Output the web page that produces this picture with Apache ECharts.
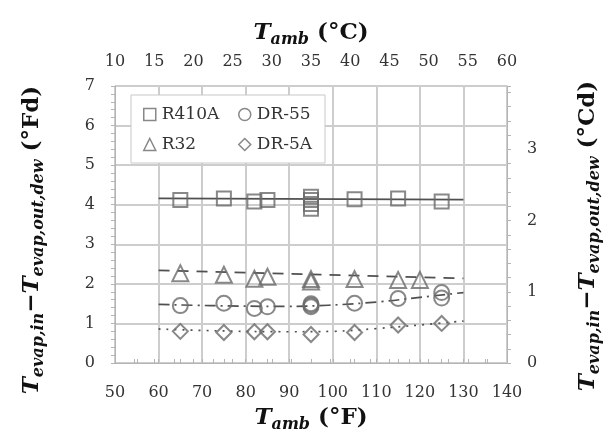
<!DOCTYPE html>
<html>
<head>
<meta charset="utf-8">
<script src="https://cdn.jsdelivr.net/npm/echarts@6/dist/echarts.min.js"></script>
<style>
  html, body { margin: 0; padding: 0; background: #fff; }
  #chart { width: 611px; height: 439px; }
</style>
</head>
<body>
<div id="chart"></div>
<script>
// Axis ranges and tick steps
const ticksF = [50, 140, 10];        // ambient temperature, °F  (min, max, step)
const ticksC = [10, 60, 5];          // ambient temperature, °C  (min, max, step)
const ticksFd = [0, 7, 1];           // temperature glide, °F difference
const cdMax = 7 / 1.8;               // same span expressed in °C difference

// Measured glide per refrigerant
const r410aTemp = [65, 75, 82, 85, 95, 95, 95, 95, 105, 115, 125];
const r410aGlide = [4.12, 4.16, 4.08, 4.12, 4.2, 4.12, 4.02, 3.9, 4.14, 4.16, 4.08];

const r32Temp = [65, 75, 82, 85, 95, 95, 105, 115, 120];
const r32Glide = [2.27, 2.23, 2.13, 2.18, 2.12, 2.06, 2.12, 2.1, 2.1];

const dr55Temp = [65, 75, 82, 85, 95, 95, 95, 105, 115, 125, 125];
const dr55Glide = [1.45, 1.51, 1.38, 1.42, 1.42, 1.46, 1.5, 1.51, 1.63, 1.78, 1.64];

const dr5aTemp = [65, 75, 82, 85, 95, 105, 115, 125];
const dr5aGlide = [0.8, 0.77, 0.79, 0.79, 0.72, 0.77, 0.96, 1.0];

// Trend lines
const r410aFitTemp = [60, 130];
const r410aFit = [4.16, 4.13];
const r32FitTemp = [60, 130];
const r32Fit = [2.34, 2.14];
const dr55FitTemp = [60, 72, 89, 99, 111, 120, 130];
const dr55Fit = [1.48, 1.45, 1.43, 1.46, 1.55, 1.66, 1.78];
const dr5aFitTemp = [60, 75, 90, 100, 110, 120, 130];
const dr5aFit = [0.86, 0.81, 0.79, 0.8, 0.87, 0.96, 1.06];

const FONT = 'DejaVu Serif';
const TXT = '#333333';
const AXIS = '#b4b4b4';
const GRID = '#cdcdcd';
const MARK = '#6a6a6a';
const FIT = '#505050';

const pairs = (xs, ys) => xs.map((x, i) => [x, ys[i]]);

const chart = echarts.init(document.getElementById('chart'), null, { renderer: 'canvas' });

const labelStyle = { color: TXT, fontFamily: FONT, fontSize: 16 };
const titleRich = {
  T: { fontFamily: FONT, fontSize: 23, fontWeight: 'bold', fontStyle: 'italic', lineHeight: 30, verticalAlign: 'middle', color: '#111' },
  s: { fontFamily: FONT, fontSize: 16, fontWeight: 'bold', fontStyle: 'italic', lineHeight: 18, verticalAlign: 'bottom', color: '#111' },
  n: { fontFamily: FONT, fontSize: 23, fontWeight: 'bold', lineHeight: 30, verticalAlign: 'middle', color: '#111' }
};
const zTitleRich = {};
for (const k in titleRich) {
  const o = Object.assign({}, titleRich[k]);
  o.fill = o.color; delete o.color;
  zTitleRich[k] = o;
}

function scatter(name, symbol, size, xs, ys) {
  return {
    name, type: 'scatter', symbol, symbolSize: size,
    data: pairs(xs, ys), z: 3,
    itemStyle: { color: 'rgba(255,255,255,0)', borderColor: MARK, borderWidth: 2 },
    emphasis: { disabled: true }
  };
}
function fit(name, xs, ys, type, smooth) {
  return {
    name, type: 'line', data: pairs(xs, ys), showSymbol: false, smooth: smooth ? 0.4 : false,
    lineStyle: { color: FIT, width: 1.7, type }, z: 2, silent: true
  };
}

const legendCommon = {
  orient: 'vertical', itemWidth: 12, itemHeight: 12, itemGap: 13, z: 6,
  textStyle: { color: TXT, fontFamily: FONT, fontSize: 17, padding: [0, 0, 0, 1] },
  itemStyle: { color: 'rgba(255,255,255,0)', borderColor: MARK, borderWidth: 1.5 },
  selectedMode: false
};

const gridLine = { show: true, lineStyle: { color: GRID, width: 2, type: 'solid', opacity: 1 } };

chart.setOption({
  animation: false,
  grid: { left: 115, right: 104, top: 86, bottom: 76 },
  xAxis: [
    {
      type: 'value', position: 'bottom', min: ticksF[0], max: ticksF[1], interval: ticksF[2],
      axisLine: { show: true, lineStyle: { color: AXIS, width: 1 } },
      axisTick: { show: true, inside: true, length: 4, lineStyle: { color: AXIS } },
      minorTick: { show: true, splitNumber: 2, length: 4, lineStyle: { color: AXIS } },
      splitLine: gridLine,
      axisLabel: Object.assign({ margin: 22 }, labelStyle),
      name: '{T|T}{s|amb}{n| (°F)}', nameLocation: 'middle', nameGap: 40,
      nameTextStyle: { rich: titleRich }
    },
    {
      type: 'value', position: 'top', min: ticksC[0], max: ticksC[1], interval: ticksC[2],
      axisLine: { show: true, lineStyle: { color: AXIS, width: 1 } },
      axisTick: { show: true, inside: false, length: 4, lineStyle: { color: AXIS } },
      minorTick: { show: true, splitNumber: 2, length: 4, lineStyle: { color: AXIS } },
      splitLine: { show: false },
      axisLabel: Object.assign({ margin: 16 }, labelStyle),
      name: '{T|T}{s|amb}{n| (°C)}', nameLocation: 'middle', nameGap: 38,
      nameTextStyle: { rich: titleRich }
    }
  ],
  yAxis: [
    {
      type: 'value', position: 'left', min: ticksFd[0], max: ticksFd[1], interval: ticksFd[2],
      axisLine: { show: true, lineStyle: { color: AXIS, width: 1 } },
      axisTick: { show: true, inside: false, length: 4, lineStyle: { color: AXIS } },
      minorTick: { show: true, splitNumber: 5, length: 4, lineStyle: { color: AXIS } },
      splitLine: gridLine,
      axisLabel: Object.assign({ margin: 20 }, labelStyle)
    },
    {
      type: 'value', position: 'right', min: 0, max: cdMax, interval: 1,
      axisLine: { show: true, lineStyle: { color: AXIS, width: 1 } },
      axisTick: { show: true, inside: false, length: 4, lineStyle: { color: AXIS } },
      minorTick: { show: true, splitNumber: 5, length: 4, lineStyle: { color: AXIS } },
      splitLine: { show: false },
      axisLabel: Object.assign({
        margin: 20, showMaxLabel: false,
        formatter: v => (Math.abs(v - Math.round(v)) < 1e-6 ? String(Math.round(v)) : '')
      }, labelStyle)
    }
  ],
  legend: [
    Object.assign({ left: 138, top: 101, data: [{ name: 'R410A', icon: 'rect' }, { name: 'R32', icon: 'triangle' }] }, legendCommon),
    Object.assign({ left: 233, top: 101, data: [{ name: 'DR-55', icon: 'circle' }, { name: 'DR-5A', icon: 'diamond' }] }, legendCommon)
  ],
  graphic: [
    {
      type: 'rect', z: 5,
      shape: { x: 131, y: 95, width: 194, height: 68 },
      style: { fill: '#fff', stroke: '#c8c8c8', lineWidth: 1 }
    },
    {
      type: 'text', x: 32, y: 240, rotation: Math.PI / 2, z: 5,
      style: {
        text: '{T|T}{s|evap,in}{n|−}{T|T}{s|evap,out,dew}{n| (°Fd)}',
        rich: zTitleRich, align: 'center', verticalAlign: 'middle'
      }
    },
    {
      type: 'text', x: 588, y: 236, rotation: Math.PI / 2, z: 5,
      style: {
        text: '{T|T}{s|evap,in}{n|−}{T|T}{s|evap,out,dew}{n| (°Cd)}',
        rich: zTitleRich, align: 'center', verticalAlign: 'middle'
      }
    }
  ],
  series: [
    fit('R410A trend', r410aFitTemp, r410aFit, 'solid', false),
    fit('R32 trend', r32FitTemp, r32Fit, [11, 8], false),
    fit('DR-55 trend', dr55FitTemp, dr55Fit, [11, 5, 2, 5], true),
    fit('DR-5A trend', dr5aFitTemp, dr5aFit, [2, 6], true),
    scatter('R410A', 'rect', 14, r410aTemp, r410aGlide),
    scatter('R32', 'triangle', 16, r32Temp, r32Glide),
    scatter('DR-55', 'circle', 15, dr55Temp, dr55Glide),
    scatter('DR-5A', 'diamond', 15, dr5aTemp, dr5aGlide)
  ]
});
</script>
</body>
</html>
